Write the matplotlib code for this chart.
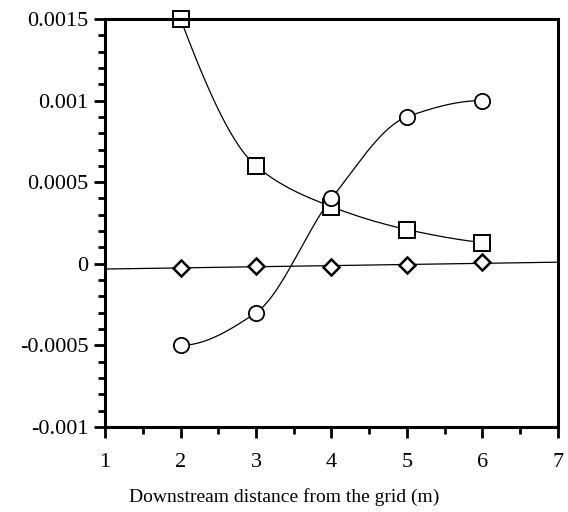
import numpy as np
import matplotlib
matplotlib.use('Agg')
import matplotlib.pyplot as plt
from matplotlib.ticker import MultipleLocator

# data
x = [2, 3, 4, 5, 6]
squares = [0.0015, 0.0006, 0.00035, 0.00021, 0.00013]
circles = [-0.0005, -0.0003, 0.0004, 0.0009, 0.001]
diamonds = [-0.000024, -0.000012, -0.00002, -0.00001, 0.00001]

xticks = [1, 2, 3, 4, 5, 6, 7]
yticks = [-0.001, -0.0005, 0, 0.0005, 0.001, 0.0015]
ylabels = ['-0.001', '-0.0005', '0', '0.0005', '0.001', '0.0015']


def pchip(xs, ys, xn):
    # monotone cubic (Fritsch-Carlson) for the smooth curves
    xs = np.asarray(xs, float)
    ys = np.asarray(ys, float)
    h = np.diff(xs)
    d = np.diff(ys) / h
    m = np.zeros_like(ys)
    for k in range(1, len(xs) - 1):
        if d[k - 1] * d[k] > 0:
            w1 = 2 * h[k] + h[k - 1]
            w2 = h[k] + 2 * h[k - 1]
            m[k] = (w1 + w2) / (w1 / d[k - 1] + w2 / d[k])
    m[0] = ((2 * h[0] + h[1]) * d[0] - h[0] * d[1]) / (h[0] + h[1])
    if np.sign(m[0]) != np.sign(d[0]):
        m[0] = 0
    m[-1] = ((2 * h[-1] + h[-2]) * d[-1] - h[-1] * d[-2]) / (h[-1] + h[-2])
    if np.sign(m[-1]) != np.sign(d[-1]):
        m[-1] = 0
    idx = np.clip(np.searchsorted(xs, xn) - 1, 0, len(xs) - 2)
    t = (xn - xs[idx]) / h[idx]
    h00 = 2 * t**3 - 3 * t**2 + 1
    h10 = t**3 - 2 * t**2 + t
    h01 = -2 * t**3 + 3 * t**2
    h11 = t**3 - t**2
    return (h00 * ys[idx] + h10 * h[idx] * m[idx]
            + h01 * ys[idx + 1] + h11 * h[idx] * m[idx + 1])


plt.rcParams['font.family'] = ['Liberation Serif', 'DejaVu Serif']

fig = plt.figure(figsize=(5.68, 5.12), dpi=100)
ax = fig.add_axes([0.185, 0.166, 0.797, 0.797])

xs = np.linspace(2, 6, 300)
ax.plot(xs, pchip(x, squares, xs), color='black', lw=0.9)
ax.plot(xs, pchip(x, circles, xs), color='black', lw=0.9)
fit = np.polyfit(x, diamonds, 1)
xl = np.array([1, 7])
ax.plot(xl, np.polyval(fit, xl), color='black', lw=0.9)

ax.plot(x, squares, 's', ms=11, mfc='white', mec='black', mew=1.4, clip_on=False)
ax.plot(x, circles, 'o', ms=11, mfc='white', mec='black', mew=1.3, clip_on=False)
ax.plot(x, diamonds, 'D', ms=8.5, mfc='white', mec='black', mew=1.8, clip_on=False)

ax.set_xlim(1, 7)
ax.set_ylim(-0.001, 0.0015)
ax.set_xticks(xticks)
ax.set_yticks(yticks)
ax.set_yticklabels(ylabels)
ax.xaxis.set_minor_locator(MultipleLocator(0.5))
ax.yaxis.set_minor_locator(MultipleLocator(0.0001))
ax.tick_params(which='both', direction='out', top=False, right=False,
               width=2, labelsize=16, colors='black')
ax.tick_params(which='major', length=8)
ax.tick_params(axis='y', which='major', pad=4)
ax.tick_params(axis='x', which='major', pad=11)
ax.tick_params(which='minor', length=5)
for s in ax.spines.values():
    s.set_linewidth(2.2)

# x label is centred on the figure, not the axes
fig.text(0.5, 0.029, 'Downstream distance from the grid (m)', fontsize=14,
         ha='center', va='center')

fig.savefig('out.png', dpi=100)
